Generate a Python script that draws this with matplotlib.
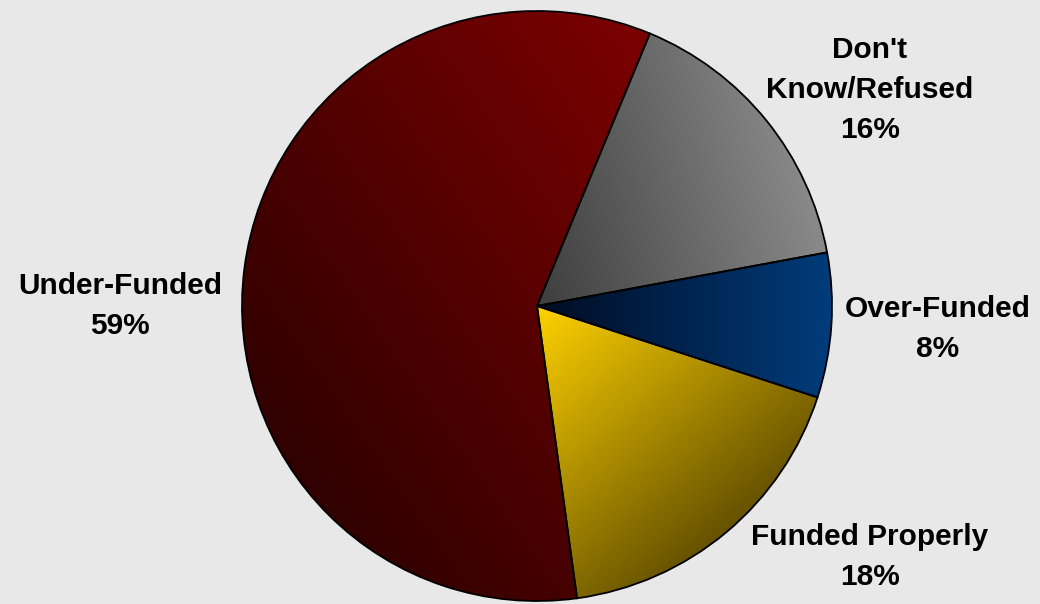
import matplotlib
matplotlib.use('Agg')
import matplotlib.pyplot as plt
import numpy as np
from matplotlib.colors import LinearSegmentedColormap

# datos del gráfico
etiquetas = ["Don't\nKnow/Refused", "Over-Funded", "Funded Properly", "Under-Funded"]
valores = [16, 8, 18, 59]

# colores de degradado (oscuro -> claro) y dirección en grados
degradados = [("#3e3e3e", "#8a8a8a", 15),
              ("#000c22", "#003c7c", 0),
              ("#ffd200", "#665200", -50),
              ("#300000", "#7c0000", 35)]

# posiciones de las etiquetas (px)
pos_etiquetas = [(870, 90), (938, 329), (870, 557), (120, 306)]

W, H = 1040, 604
fondo = "#e8e8e8"

fig = plt.figure(figsize=(W / 100, H / 100), dpi=100, facecolor=fondo)
ax = fig.add_axes([0, 0, 1, 1])
ax.set_facecolor(fondo)

cx, cy, r = 537, 306, 295

# en eje invertido el sentido horario se ve al revés
wedges, _ = ax.pie(valores, center=(cx, cy), radius=r, startangle=-67.5,
                   counterclock=True, frame=True,
                   wedgeprops=dict(edgecolor='black', linewidth=1.3))
ax.set_xlim(0, W)
ax.set_ylim(H, 0)
ax.axis('off')

gx, gy = np.meshgrid(np.linspace(cx - r, cx + r, 400), np.linspace(cy - r, cy + r, 400))
for w, (c1, c2, ang) in zip(wedges, degradados):
    verts = w.get_path().vertices
    d = np.array([np.cos(np.radians(ang)), -np.sin(np.radians(ang))])
    proy = verts @ d
    t = (gx * d[0] + gy * d[1] - proy.min()) / (proy.max() - proy.min())
    cmap = LinearSegmentedColormap.from_list('g', [c1, c2])
    im = ax.imshow(np.clip(t, 0, 1), cmap=cmap, vmin=0, vmax=1,
                   extent=(cx - r, cx + r, cy + r, cy - r), origin='upper',
                   interpolation='bilinear', zorder=1)
    im.set_clip_path(w)
    w.set_facecolor('none')
    w.set_zorder(2)

for texto, v, (x, y) in zip(etiquetas, valores, pos_etiquetas):
    ax.text(x, y, f"{texto}\n{v}%", ha='center', va='center', fontsize=21.5,
            fontweight='bold', family='Liberation Sans', linespacing=1.53,
            color='black')

plt.savefig('out.png', dpi=100, facecolor=fondo)
plt.close()
